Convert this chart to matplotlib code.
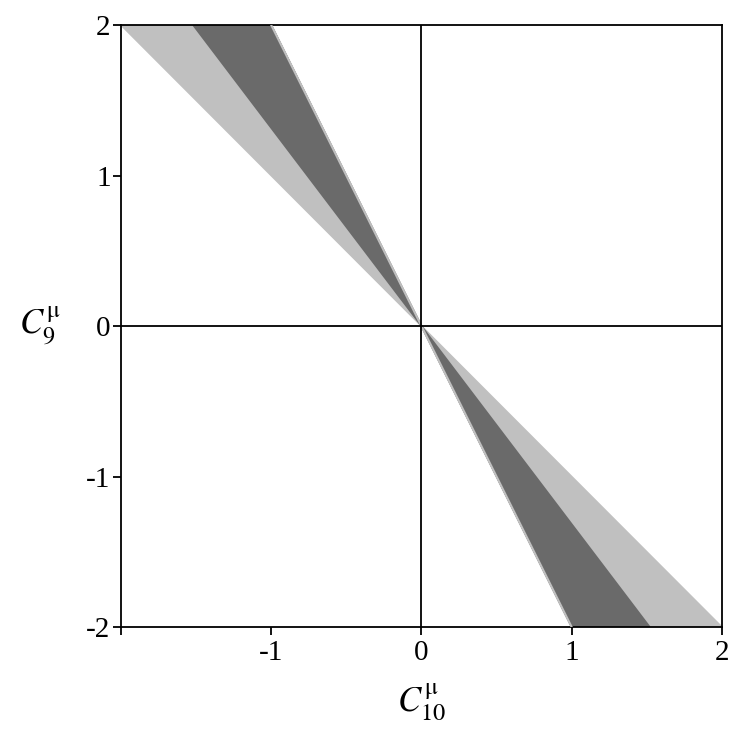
import matplotlib
matplotlib.use("Agg")
import matplotlib.pyplot as plt
from matplotlib.patches import Polygon

# Wedge edges: x-values where each region's boundary meets y = +2 (top) and y = -2 (bottom)
light_top_x = [-2.0, -1.0]
dark_top_x = [-1.52, -1.0]
light_bottom_x = [1.0, 2.0]
dark_bottom_x = [1.0, 1.52]
y_top, y_bottom = 2.0, -2.0

xticks = [-2, -1, 0, 1, 2]
xticklabels = ["", "-1", "0", "1", "2"]
yticks = [-2, -1, 0, 1, 2]
yticklabels = ["-2", "-1", "0", "1", "2"]

light = "#c0c0c0"
dark = "#6a6a6a"

plt.rcParams['font.family'] = ['Liberation Serif', 'DejaVu Serif']
plt.rcParams['mathtext.fontset'] = 'stix'

fig = plt.figure(figsize=(7.4, 7.4), dpi=100)
ax = fig.add_axes([0.1635, 0.1527, 0.812, 0.8135])

def wedge(xs, yv, color, z):
    poly = Polygon([(0, 0), (xs[0], yv), (xs[1], yv)], closed=True,
                   facecolor=color, edgecolor=color, linewidth=1.2, zorder=z)
    ax.add_patch(poly)

wedge(light_top_x, y_top, light, 1)
wedge(light_bottom_x, y_bottom, light, 1)
wedge(dark_top_x, y_top, dark, 2)
wedge(dark_bottom_x, y_bottom, dark, 2)
# thin light edge along the steep boundary
ax.plot([0, light_top_x[1]], [0, y_top], color=light, lw=1.5, zorder=3)
ax.plot([0, light_bottom_x[0]], [0, y_bottom], color=light, lw=1.5, zorder=3)

ax.axhline(0, color='black', lw=1.3, zorder=4)
ax.axvline(0, color='black', lw=1.3, zorder=4)

ax.set_xlim(-2, 2)
ax.set_ylim(-2, 2)
ax.set_xticks(xticks)
ax.set_xticklabels(xticklabels)
ax.set_yticks(yticks)
ax.set_yticklabels(yticklabels)
ax.tick_params(direction='out', length=5.5, width=1.3, labelsize=21, pad=2)
ax.tick_params(axis='x', pad=4)
for s in ax.spines.values():
    s.set_linewidth(1.3)

ax.set_xlabel(r"$C_{10}^{\mathrm{\mu}}$", fontsize=25, va='center')
ax.xaxis.set_label_coords(0.5, -0.125)
ax.set_ylabel(r"$C_{9}^{\mathrm{\mu}}$", fontsize=25, rotation=0, va='center', ha='center')
ax.yaxis.set_label_coords(-0.135, 0.5)

fig.savefig("out.png", dpi=100)
